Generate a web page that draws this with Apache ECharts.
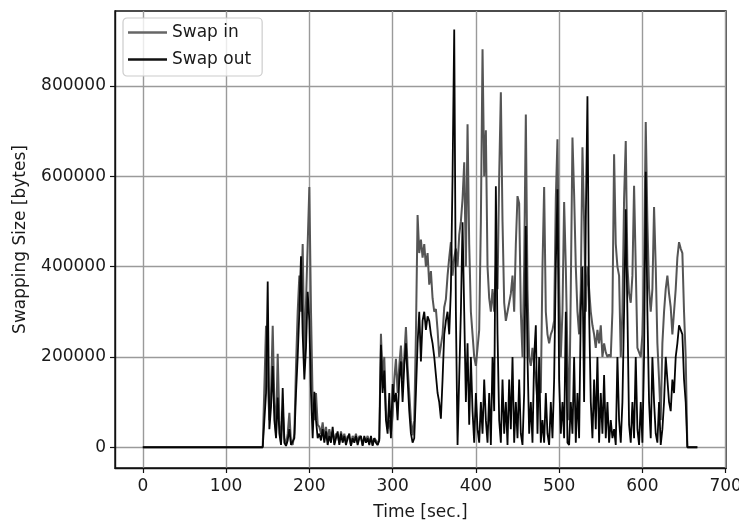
<!DOCTYPE html>
<html>
<head>
<meta charset="utf-8">
<script src="https://cdn.jsdelivr.net/npm/echarts@6/dist/echarts.min.js"></script>
<style>
html,body{margin:0;padding:0;background:#fff;}
#chart{width:739px;height:525px;}
</style>
</head>
<body>
<div id="chart"></div>
<script>
// Time stamps [sec.]
const times = [0,
144,146,148,150,152,154,156,158,160,162,
164,166,168,170,172,174,176,178,180,182,
184,186,188,190,192,194,196,198,200,202,
204,206,208,210,212,214,216,218,220,222,
224,226,228,230,232,234,236,238,240,242,
244,246,248,250,252,254,256,258,260,262,
264,266,268,270,272,274,276,278,280,282,
284,286,288,290,292,294,296,298,300,302,
304,306,308,310,312,314,316,318,320,322,
324,326,328,330,332,334,336,338,340,342,
344,346,348,350,352,354,356,358,360,362,
364,366,368,370,372,374,376,378,380,382,
384,386,388,390,392,394,396,398,400,402,
404,406,408,410,412,414,416,418,420,422,
424,426,428,430,432,434,436,438,440,442,
444,446,448,450,452,454,456,458,460,462,
464,466,468,470,472,474,476,478,480,482,
484,486,488,490,492,494,496,498,500,502,
504,506,508,510,512,514,516,518,520,522,
524,526,528,530,532,534,536,538,540,542,
544,546,548,550,552,554,556,558,560,562,
564,566,568,570,572,574,576,578,580,582,
584,586,588,590,592,594,596,598,600,602,
604,606,608,610,612,614,616,618,620,622,
624,626,628,630,632,634,636,638,640,642,
644,646,648,650,652,654,656,658,660,662,
664,666];

// Swap in [thousand bytes]
const swapInK = [0,
0,0,269,150,60,120,269,100,30,207,
60,10,80,20,5,30,76,10,5,30,
180,300,380,300,450,200,320,450,576,300,
100,60,120,50,45,30,55,20,45,15,
40,20,35,10,30,25,10,35,15,30,
10,25,20,5,25,15,30,10,25,20,
5,20,15,25,10,20,5,20,15,5,
20,251,150,200,80,41,60,30,70,150,
196,120,180,225,150,200,266,180,120,60,
26,60,250,514,430,460,420,450,400,430,
360,390,330,300,306,260,200,196,250,310,
328,380,420,454,380,420,440,400,470,500,
550,631,400,715,450,300,250,200,180,220,
260,500,881,600,702,400,330,300,350,300,
400,350,600,786,500,320,280,300,320,340,
380,300,450,556,540,300,200,400,737,350,
200,180,220,180,150,100,150,120,400,576,
300,250,230,250,260,280,550,682,350,200,
300,543,400,200,60,350,686,560,400,300,
250,350,664,500,300,400,350,300,270,250,
220,260,230,270,200,230,210,200,205,200,
300,649,450,400,380,200,300,550,678,400,
340,320,380,579,400,220,210,200,250,400,
720,500,350,300,350,532,400,230,150,60,
230,300,350,380,340,310,250,300,350,420,
454,440,430,300,200,0,0,0,0,0,
0,0];

// Swap out [thousand bytes]
const swapOutK = [0,
0,0,120,367,40,90,180,60,20,110,
30,5,131,10,3,15,40,5,2,20,
120,200,300,423,250,150,220,344,280,120,
20,123,60,20,30,15,40,10,35,5,
25,10,45,5,20,35,5,30,10,25,
5,20,30,3,20,10,25,5,20,25,
3,25,10,20,5,25,3,20,10,5,
15,227,120,170,60,30,120,20,140,100,
120,60,150,190,100,180,230,150,80,30,
10,20,120,230,300,190,280,300,260,290,
280,250,230,200,160,120,100,63,150,250,
280,300,250,350,600,925,300,5,155,300,
498,300,100,230,50,200,80,10,120,40,
10,100,30,150,60,10,120,5,200,80,
578,250,60,10,150,30,100,5,150,40,
200,10,100,20,150,30,5,120,490,200,
30,100,10,200,270,30,200,10,60,10,
120,30,5,100,20,150,400,571,150,30,
100,20,300,10,5,100,30,200,10,120,
20,300,400,100,500,777,300,100,20,150,
40,200,10,120,30,160,20,100,10,60,
20,40,5,200,60,10,100,300,527,300,
50,10,100,20,200,40,5,100,10,200,
610,300,100,20,200,100,30,10,100,5,
40,100,200,150,100,80,150,120,200,230,
270,260,250,150,100,0,0,0,0,0,
0,0];

const xTicks = [0,100,200,300,400,500,600,700];
const yTicks = [0,200000,400000,600000,800000];
const seriesNames = ['Swap in','Swap out'];

const FONT = 'DejaVu Sans';
const chart = echarts.init(document.getElementById('chart'), null, {renderer:'canvas'});
const inData = times.map((t,i)=>[t, swapInK[i]*1000]);
const outData = times.map((t,i)=>[t, swapOutK[i]*1000]);

chart.setOption({
  animation:false,
  backgroundColor:'#ffffff',
  grid:{left:115,right:13,top:11,bottom:57,outerBoundsMode:'none',containLabel:false,
        show:true,borderColor:'#111',borderWidth:1.4,backgroundColor:'transparent'},
  legend:{
    orient:'vertical', left:123, top:18,
    data:[{name:seriesNames[0],icon:'rect'},{name:seriesNames[1],icon:'rect'}],
    itemWidth:39, itemHeight:2.5, itemGap:10,
    padding:[6,11,8,5],
    borderColor:'#cccccc', borderWidth:1.2, borderRadius:4, backgroundColor:'rgba(255,255,255,0.8)',
    textStyle:{fontFamily:FONT,fontSize:17,color:'#1a1a1a',lineHeight:17}
  },
  xAxis:{
    type:'value', min:-33.4, max:700.4,
    name:'Time [sec.]', nameLocation:'middle', nameGap:36,
    nameTextStyle:{fontFamily:FONT,fontSize:17,color:'#1a1a1a',verticalAlign:'top'},
    axisLine:{show:true,onZero:false,lineStyle:{color:'#111',width:1.4}},
    axisTick:{show:true,length:5,customValues:xTicks,lineStyle:{color:'#111',width:1.2}},
    axisLabel:{customValues:xTicks,fontFamily:FONT,fontSize:17,color:'#1a1a1a',margin:10},
    splitLine:{show:true,lineStyle:{color:'#9a9a9a',width:1.4}}
  },
  yAxis:{
    type:'value', min:-46000, max:966000,
    name:'Swapping Size [bytes]', nameLocation:'middle', nameGap:86, nameRotate:90,
    nameTextStyle:{fontFamily:FONT,fontSize:17,color:'#1a1a1a'},
    axisLine:{show:true,onZero:false,lineStyle:{color:'#111',width:1.4}},
    axisTick:{show:true,length:5,customValues:yTicks,lineStyle:{color:'#111',width:1.2}},
    axisLabel:{customValues:yTicks,fontFamily:FONT,fontSize:17,color:'#1a1a1a',margin:9,
               formatter:(v)=>String(Math.round(v))},
    splitLine:{show:true,lineStyle:{color:'#9a9a9a',width:1.4}}
  },
  series:[
    {name:seriesNames[0],type:'line',data:inData,showSymbol:false,symbol:'none',
     lineStyle:{color:'#555555',width:2},itemStyle:{color:'#666666'},z:2},
    {name:seriesNames[1],type:'line',data:outData,showSymbol:false,symbol:'none',
     lineStyle:{color:'#050505',width:1.8},itemStyle:{color:'#111'},z:3}
  ]
});
</script>
</body>
</html>
